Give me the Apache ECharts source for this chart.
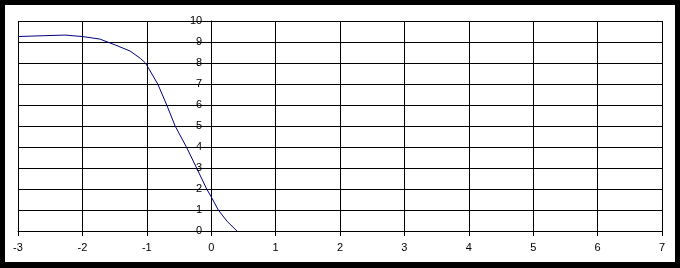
<!DOCTYPE html>
<html>
<head>
<meta charset="utf-8">
<script src="https://cdn.jsdelivr.net/npm/echarts@6/dist/echarts.min.js"></script>
<style>
  html, body { margin: 0; padding: 0; background: #000; width: 680px; height: 268px; overflow: hidden; }
  #chart { position: absolute; left: 5px; top: 5px; width: 670px; height: 257px; background: #fff; }
</style>
</head>
<body>
<div id="chart"></div>
<script>
const xValues = [-3.0, -2.6, -2.27, -2.0, -1.73, -1.49, -1.26, -1.1, -1.02, -0.83, -0.69, -0.56, -0.38, -0.225, -0.07, 0.0, 0.11, 0.25, 0.40];
const yValues = [9.26, 9.30, 9.33, 9.26, 9.14, 8.86, 8.57, 8.22, 8.0, 7.0, 6.0, 5.0, 3.97, 2.99, 2.0, 1.63, 1.0, 0.45, 0.0];
const xMin = -3, xMax = 7, yMin = 0, yMax = 10;

const gridWidth = 644;
const chart = echarts.init(document.getElementById('chart'), null, { renderer: 'canvas' });
const font = { fontFamily: 'Liberation Sans, Arial, sans-serif', fontSize: 11, color: '#000' };
chart.setOption({
  animation: false,
  backgroundColor: 'transparent',
  grid: { left: 13, top: 16, width: gridWidth, height: 210, containLabel: false, outerBoundsMode: 'none' },
  xAxis: {
    type: 'value', min: xMin, max: xMax, interval: 1,
    axisLine: { onZero: false, lineStyle: { color: '#000', width: 1 } },
    axisTick: { show: true, length: 5, lineStyle: { color: '#000' } },
    axisLabel: Object.assign({ margin: 11 }, font),
    splitLine: { show: true, lineStyle: { color: '#000', width: 1 } }
  },
  yAxis: {
    type: 'value', min: yMin, max: yMax, interval: 1,
    offset: -(0 - xMin) / (xMax - xMin) * gridWidth,
    axisLine: { show: true, onZero: false, lineStyle: { color: '#000', width: 1 } },
    axisTick: { show: false },
    axisLabel: Object.assign({ margin: 9 }, font),
    splitLine: { show: true, lineStyle: { color: '#000', width: 1 } }
  },
  series: [{
    type: 'line',
    data: xValues.map((x, i) => [x, yValues[i]]),
    showSymbol: false,
    smooth: false,
    lineStyle: { color: '#000080', width: 1 },
    itemStyle: { color: '#000080' }
  }]
});
</script>
</body>
</html>
